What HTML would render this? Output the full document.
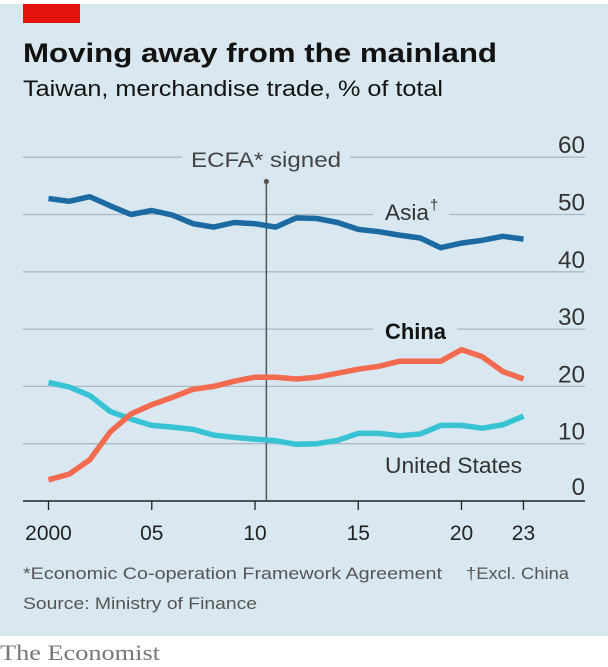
<!DOCTYPE html>
<html><head><meta charset="utf-8"><style>
html,body{margin:0;padding:0;background:#fff}
svg{display:block}
text{font-family:"Liberation Sans",sans-serif}
</style></head><body>
<svg id="chart" width="608" height="667" viewBox="0 0 608 667" xmlns="http://www.w3.org/2000/svg">
<rect x="0" y="4" width="608" height="632" fill="#d9e7f0"/>
<rect x="23" y="4" width="57" height="19" fill="#e3120b"/>
<text x="23" y="62" font-size="27" font-weight="bold" fill="#121212" textLength="474" lengthAdjust="spacingAndGlyphs">Moving away from the mainland</text>
<text x="23" y="96" font-size="22" fill="#121212" textLength="420" lengthAdjust="spacingAndGlyphs">Taiwan, merchandise trade, % of total</text>
<g id="grid"></g>
<g id="ylabels"></g>
<g id="xaxis"></g>
<g id="series"></g>
<text x="266" y="167" font-size="21" fill="#444" text-anchor="middle" textLength="150" lengthAdjust="spacingAndGlyphs">ECFA* signed</text>
<text x="385" y="220" font-size="22" fill="#333" textLength="44" lengthAdjust="spacingAndGlyphs">Asia</text>
<text x="430" y="210" font-size="15" fill="#333">†</text>
<text x="385" y="339" font-size="22" font-weight="bold" fill="#121212" textLength="61" lengthAdjust="spacingAndGlyphs">China</text>
<text x="385" y="473" font-size="22" fill="#333" textLength="137" lengthAdjust="spacingAndGlyphs">United States</text>
<text x="23" y="579" font-size="17" fill="#555" textLength="419" lengthAdjust="spacingAndGlyphs">*Economic Co-operation Framework Agreement</text>
<text x="466" y="579" font-size="17" fill="#555" textLength="103" lengthAdjust="spacingAndGlyphs">†Excl. China</text>
<text x="23" y="609" font-size="17" fill="#555" textLength="234" lengthAdjust="spacingAndGlyphs">Source: Ministry of Finance</text>
<text x="0" y="660" font-size="22" fill="#777" style="font-family:'Liberation Serif',serif" textLength="160" lengthAdjust="spacingAndGlyphs">The Economist</text>
</svg>
<script>
const years = [2000,2001,2002,2003,2004,2005,2006,2007,2008,2009,2010,2011,2012,2013,2014,2015,2016,2017,2018,2019,2020,2021,2022,2023];
const asia = [52.8,52.3,53.1,51.5,50.0,50.7,49.9,48.4,47.8,48.6,48.4,47.8,49.4,49.3,48.6,47.4,47.0,46.4,45.9,44.2,45.0,45.5,46.2,45.7];
const china = [3.7,4.7,7.2,12.1,15.2,16.8,18.1,19.5,20.0,20.9,21.6,21.6,21.3,21.6,22.3,23.0,23.5,24.4,24.4,24.4,26.4,25.2,22.6,21.3];
const us = [20.7,19.9,18.4,15.6,14.3,13.2,12.9,12.5,11.5,11.1,10.8,10.5,9.9,10.0,10.6,11.8,11.8,11.4,11.7,13.2,13.2,12.7,13.3,14.8];
const yTicks = [0,10,20,30,40,50,60];
const xTickYears = [2000,2005,2010,2015,2020,2023];
const xTickLabels = ["2000","05","10","15","20","23"];
const ecfaYear = 2010.55;

const NS = "http://www.w3.org/2000/svg";
const x = y => 48.5 + (y - 2000) * 20.65;
const yv = v => 501 - v * 5.73;
function mk(tag, attrs, parent){const e=document.createElementNS(NS,tag);for(const k in attrs)e.setAttribute(k,attrs[k]);parent.appendChild(e);return e;}

const grid=document.getElementById('grid'), yl=document.getElementById('ylabels'), xa=document.getElementById('xaxis'), ser=document.getElementById('series');
const gaps = {60:[182,350],50:[373,449],30:[373,457]};
yTicks.forEach(t=>{
  if(t===0) return;
  const yy=yv(t);
  const segs = gaps[t] ? [[23,gaps[t][0]],[gaps[t][1],585]] : [[23,585]];
  segs.forEach(s=>{
    const l=mk('line',{x1:s[0],x2:s[1],y1:yy,y2:yy,stroke:'#a9b8c3','stroke-width':1.3},grid);
    
    
  });
  const tx=mk('text',{x:585,y:yy-4,'font-size':24,fill:'#333','text-anchor':'end',textLength:27,lengthAdjust:'spacingAndGlyphs'},yl);
  tx.textContent=t;
  
  
});
const zl=mk('text',{x:585,y:yv(0)-6,'font-size':24,fill:'#333','text-anchor':'end'},yl);
zl.textContent='0';



const ax=mk('line',{x1:23,x2:585,y1:yv(0),y2:yv(0),stroke:'#222','stroke-width':1.5},xa);


xTickYears.forEach((yr,i)=>{
  const tk=mk('line',{x1:x(yr),x2:x(yr),y1:yv(0),y2:yv(0)+9,stroke:'#222','stroke-width':1.3},xa);
  
  
  const tl=mk('text',{x:x(yr),y:540,'font-size':21,fill:'#222','text-anchor':'middle'},xa);
  tl.textContent=xTickLabels[i];
  
  
});

const el=mk('line',{x1:x(ecfaYear),x2:x(ecfaYear),y1:181.5,y2:yv(0),stroke:'#555','stroke-width':1.5},ser);


const ed=mk('circle',{cx:x(ecfaYear),cy:181.5,r:2.6,fill:'#555'},ser);



function line(data,color,name){
  const d=data.map((v,i)=>(i?'L':'M')+x(years[i]).toFixed(1)+' '+yv(v).toFixed(1)).join(' ');
  const p=mk('path',{d:d,fill:'none',stroke:color,'stroke-width':5.5,'stroke-linejoin':'round'},ser);
  
  
}
line(us,'#37c3d4','us-line');
line(china,'#f26a4f','china-line');
line(asia,'#1b6aa2','asia-line');
</script>
</body></html>
